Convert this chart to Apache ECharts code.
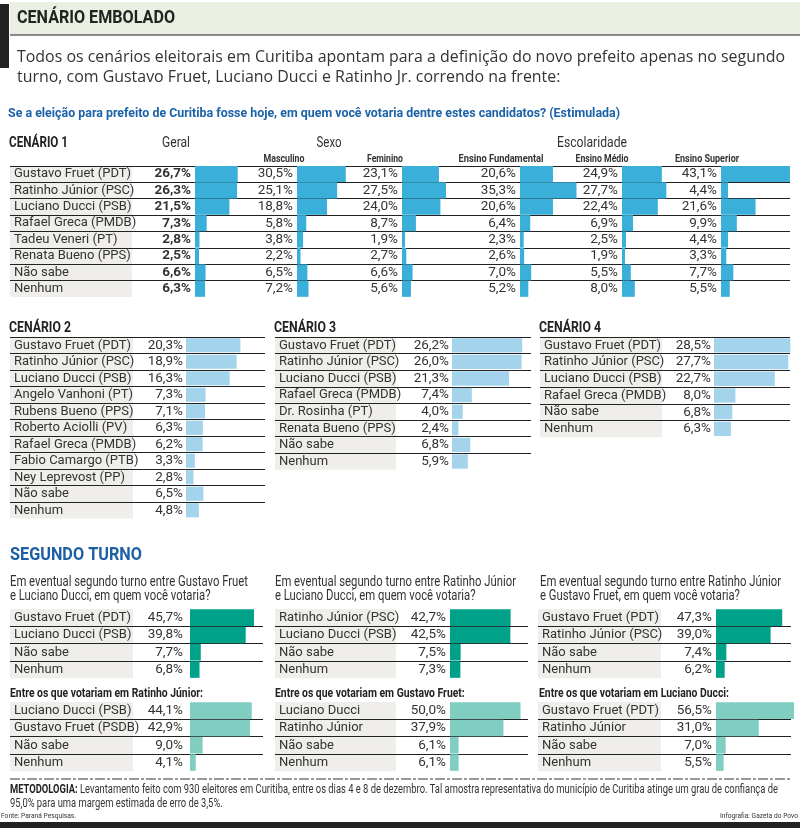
<!DOCTYPE html>
<html><head><meta charset="utf-8">
<script src="https://cdn.jsdelivr.net/npm/echarts@6/dist/echarts.min.js"></script>
<style>html,body{margin:0;padding:0;background:#fff}#c{width:800px;height:828px}</style>
</head><body><div id="c"></div>
<script>
// ---------- DATA ----------
const cen1Names = ['Gustavo Fruet (PDT)','Ratinho Júnior (PSC)','Luciano Ducci (PSB)','Rafael Greca (PMDB)','Tadeu Veneri (PT)','Renata Bueno (PPS)','Não sabe','Nenhum'];
const cen1Geral = [26.7,26.3,21.5,7.3,2.8,2.5,6.6,6.3];
const cen1Masculino = [30.5,25.1,18.8,5.8,3.8,2.2,6.5,7.2];
const cen1Feminino = [23.1,27.5,24.0,8.7,1.9,2.7,6.6,5.6];
const cen1Fundamental = [20.6,35.3,20.6,6.4,2.3,2.6,7.0,5.2];
const cen1Medio = [24.9,27.7,22.4,6.9,2.5,1.9,5.5,8.0];
const cen1Superior = [43.1,4.4,21.6,9.9,4.4,3.3,7.7,5.5];

const cen2Names = ['Gustavo Fruet (PDT)','Ratinho Júnior (PSC)','Luciano Ducci (PSB)','Angelo Vanhoni (PT)','Rubens Bueno (PPS)','Roberto Aciolli (PV)','Rafael Greca (PMDB)','Fabio Camargo (PTB)','Ney Leprevost (PP)','Não sabe','Nenhum'];
const cen2Values = [20.3,18.9,16.3,7.3,7.1,6.3,6.2,3.3,2.8,6.5,4.8];
const cen3Names = ['Gustavo Fruet (PDT)','Ratinho Júnior (PSC)','Luciano Ducci (PSB)','Rafael Greca (PMDB)','Dr. Rosinha (PT)','Renata Bueno (PPS)','Não sabe','Nenhum'];
const cen3Values = [26.2,26.0,21.3,7.4,4.0,2.4,6.8,5.9];
const cen4Names = ['Gustavo Fruet (PDT)','Ratinho Júnior (PSC)','Luciano Ducci (PSB)','Rafael Greca (PMDB)','Não sabe','Nenhum'];
const cen4Values = [28.5,27.7,22.7,8.0,6.8,6.3];

const st1Names = ['Gustavo Fruet (PDT)','Luciano Ducci (PSB)','Não sabe','Nenhum'];
const st1Values = [45.7,39.8,7.7,6.8];
const st2Names = ['Ratinho Júnior (PSC)','Luciano Ducci (PSB)','Não sabe','Nenhum'];
const st2Values = [42.7,42.5,7.5,7.3];
const st3Names = ['Gustavo Fruet (PDT)','Ratinho Júnior (PSC)','Não sabe','Nenhum'];
const st3Values = [47.3,39.0,7.4,6.2];

const en1Names = ['Luciano Ducci (PSB)','Gustavo Fruet (PSDB)','Não sabe','Nenhum'];
const en1Values = [44.1,42.9,9.0,4.1];
const en2Names = ['Luciano Ducci','Ratinho Júnior','Não sabe','Nenhum'];
const en2Values = [50.0,37.9,6.1,6.1];
const en3Names = ['Gustavo Fruet (PDT)','Ratinho Júnior','Não sabe','Nenhum'];
const en3Values = [56.5,31.0,7.0,5.5];

// ---------- STYLE ----------
const NARROW = 'Roboto, "Liberation Sans", sans-serif';
const WIDE = '"Open Sans","Noto Sans",sans-serif';
const TXT = '#333333';
const C1 = '#3aafd9', C2 = '#a3d4eb', C3 = '#00a189', C4 = '#7fcec1';
const BG = '#efeeea';
const fmt = v => v.toFixed(1).replace('.', ',') + '%';

const grids = [], xAxes = [], yAxes = [], series = [], graphics = [];

function panel(p) {
  const i = grids.length;
  const H = p.rowH * p.names.length;
  grids.push({left: p.L, top: p.top, width: p.R - p.L, height: H});
  xAxes.push({gridIndex: i, type: 'value', show: false,
    min: -(p.Z - p.L) / p.s, max: (p.R - p.Z) / p.s});
  yAxes.push({gridIndex: i, type: 'category', inverse: true, data: p.names,
    axisLine: {show: false, onZero: false}, axisTick: {show: false},
    axisLabel: {show: !!p.showNames, inside: true, margin: 4, interval: 0,
      fontFamily: NARROW, fontSize: 13, color: TXT},
    splitLine: {show: true, showMinLine: !!p.minLine, showMaxLine: false,
      lineStyle: {color: '#222', width: 1}}});
  series.push({type: 'bar', xAxisIndex: i, yAxisIndex: i, data: p.values,
    barCategoryGap: p.gap || '10%', clip: false, silent: true,
    itemStyle: {color: p.color},
    label: {show: true, position: 'left', distance: p.dist || 4,
      formatter: d => fmt(d.value), fontFamily: NARROW, fontSize: 13.5,
      fontWeight: p.bold ? 'bold' : 'normal', color: TXT}});
  if (p.bgEnd) {
    graphics.push({type: 'rect', z: -10, shape: {x: p.L, y: p.top, width: p.bgEnd - p.L, height: H},
      style: {fill: BG}});
  }
}

// measure text to compress it horizontally (emulates condensed type)
const mctx = document.createElement('canvas').getContext('2d');
function fitScale(t, size, weight, family, w) {
  mctx.font = (weight || 'normal') + ' ' + size + 'px ' + family;
  return w / mctx.measureText(t).width;
}
function text(t, x, y, o, w, sc) {
  o = Object.assign({fontFamily: NARROW, fontSize: 13, fontWeight: 'normal'}, o || {});
  let k = sc || 1;
  if (w) k = fitScale(t, o.fontSize, o.fontWeight, o.fontFamily, w);
  graphics.push({type: 'text', x: x, y: y, z: 10, scaleX: k, style: Object.assign({
    text: t, fill: TXT, align: 'left', verticalAlign: 'middle'}, o)});
  return k;
}

// ---------- CENÁRIO 1 ----------
const c1top = 165.8, c1row = 16.4, s1 = 1.6;
panel({names: cen1Names, values: cen1Geral, L: 10, Z: 195, R: 245, s: s1, top: c1top, rowH: c1row, color: C1, bgEnd: 132, showNames: true, minLine: true, bold: true, gap: '2%'});
panel({names: cen1Names, values: cen1Masculino, L: 245, Z: 297, R: 350, s: s1, top: c1top, rowH: c1row, color: C1, minLine: true, gap: '2%'});
panel({names: cen1Names, values: cen1Feminino, L: 350, Z: 402, R: 455, s: s1, top: c1top, rowH: c1row, color: C1, minLine: true, gap: '2%'});
panel({names: cen1Names, values: cen1Fundamental, L: 455, Z: 520, R: 580, s: s1, top: c1top, rowH: c1row, color: C1, minLine: true, gap: '2%'});
panel({names: cen1Names, values: cen1Medio, L: 580, Z: 622, R: 680, s: s1, top: c1top, rowH: c1row, color: C1, minLine: true, gap: '2%'});
panel({names: cen1Names, values: cen1Superior, L: 680, Z: 721, R: 790, s: s1, top: c1top, rowH: c1row, color: C1, minLine: true, gap: '2%'});

// ---------- CENÁRIOS 2-4 ----------
const c2top = 337, s2 = 2.68;
panel({names: cen2Names, values: cen2Values, L: 10, Z: 186, R: 265, s: s2, top: c2top, rowH: 16.5, color: C2, bgEnd: 133, showNames: true, minLine: true, dist: 3, gap: '14%'});
panel({names: cen3Names, values: cen3Values, L: 275, Z: 452, R: 531, s: s2, top: c2top, rowH: 16.6, color: C2, bgEnd: 396, showNames: true, minLine: true, dist: 3, gap: '14%'});
panel({names: cen4Names, values: cen4Values, L: 540, Z: 714, R: 790, s: s2, top: c2top, rowH: 16.7, color: C2, bgEnd: 662, showNames: true, minLine: true, dist: 3, gap: '14%'});

// ---------- SEGUNDO TURNO ----------
const stTop = 609, stRow = 17.3, s3 = 1.4;
panel({names: st1Names, values: st1Values, L: 10, Z: 190, R: 263, s: s3, top: stTop, rowH: stRow, color: C3, bgEnd: 133, showNames: true, dist: 7, gap: '4%'});
panel({names: st2Names, values: st2Values, L: 275, Z: 450, R: 528, s: 1.42, top: stTop, rowH: stRow, color: C3, bgEnd: 396, showNames: true, dist: 4, gap: '4%'});
panel({names: st3Names, values: st3Values, L: 538, Z: 716, R: 791, s: s3, top: stTop, rowH: stRow, color: C3, bgEnd: 661, showNames: true, dist: 4, gap: '4%'});

const enTop = 702, enRow = 17.3;
panel({names: en1Names, values: en1Values, L: 10, Z: 190, R: 263, s: s3, top: enTop, rowH: enRow, color: C4, bgEnd: 133, showNames: true, dist: 7, gap: '4%'});
panel({names: en2Names, values: en2Values, L: 275, Z: 450, R: 528, s: 1.41, top: enTop, rowH: enRow, color: C4, bgEnd: 396, showNames: true, dist: 4, gap: '4%'});
panel({names: en3Names, values: en3Values, L: 538, Z: 716, R: 791, s: 1.38, top: enTop, rowH: enRow, color: C4, bgEnd: 661, showNames: true, dist: 4, gap: '4%'});

// ---------- HEADER / TEXTS ----------
graphics.push({type: 'rect', z: -10, shape: {x: 10, y: 2, width: 790, height: 33}, style: {fill: '#e9f0e1'}});
graphics.push({type: 'rect', z: -9, shape: {x: 0, y: 4, width: 9, height: 64}, style: {fill: '#222'}});
graphics.push({type: 'line', z: -9, shape: {x1: 10, y1: 35, x2: 800, y2: 35}, style: {stroke: '#222', lineWidth: 1.2}});
text('CENÁRIO EMBOLADO', 17, 18, {fontSize: 19, fontWeight: 'bold', fill: '#222'}, 158);
const kIntro = text('Todos os cenários eleitorais em Curitiba apontam para a definição do novo prefeito apenas no segundo', 17, 58, {fontFamily: WIDE, fontSize: 15.5}, 768);
text('turno, com Gustavo Fruet, Luciano Ducci e Ratinho Jr. correndo na frente:', 17, 78, {fontFamily: WIDE, fontSize: 15.5}, null, kIntro);
text('Se a eleição para prefeito de Curitiba fosse hoje, em quem você votaria dentre estes candidatos? (Estimulada)', 8, 114, {fontSize: 13, fontWeight: 'bold', fill: '#1b62a8'}, 612);

text('CENÁRIO 1', 9, 143, {fontSize: 14, fontWeight: 'bold', fill: '#222'}, 59);
text('Geral', 176, 143, {align: 'center', fontSize: 14.5}, 28);
text('Sexo', 329, 143, {align: 'center', fontSize: 14.5}, 25);
text('Escolaridade', 592, 143, {align: 'center', fontSize: 14.5}, 70);
text('Masculino', 284, 159, {align: 'center', fontSize: 10.5, fontWeight: 'bold'}, 41);
text('Feminino', 385, 159, {align: 'center', fontSize: 10.5, fontWeight: 'bold'}, 36);
text('Ensino Fundamental', 501, 159, {align: 'center', fontSize: 10.5, fontWeight: 'bold'}, 85);
text('Ensino Médio', 602, 159, {align: 'center', fontSize: 10.5, fontWeight: 'bold'}, 53);
text('Ensino Superior', 707, 159, {align: 'center', fontSize: 10.5, fontWeight: 'bold'}, 64);

const kCen = text('CENÁRIO 2', 9, 328, {fontSize: 14, fontWeight: 'bold', fill: '#222'}, 62);
text('CENÁRIO 3', 274, 328, {fontSize: 14, fontWeight: 'bold', fill: '#222'}, null, kCen);
text('CENÁRIO 4', 539, 328, {fontSize: 14, fontWeight: 'bold', fill: '#222'}, null, kCen);

text('SEGUNDO TURNO', 10, 555, {fontSize: 18, fontWeight: 'bold', fill: '#1d5fa5'}, 132);
const kQ = text('Em eventual segundo turno entre Gustavo Fruet', 10, 582, {fontSize: 14}, 238);
text('e Luciano Ducci, em quem você votaria?', 10, 596, {fontSize: 14}, null, kQ);
text('Em eventual segundo turno entre Ratinho Júnior', 275, 582, {fontSize: 14}, null, kQ);
text('e Luciano Ducci, em quem você votaria?', 275, 596, {fontSize: 14}, null, kQ);
text('Em eventual segundo turno entre Ratinho Júnior', 540, 582, {fontSize: 14}, null, kQ);
text('e Gustavo Fruet, em quem você votaria?', 540, 596, {fontSize: 14}, null, kQ);

const kE = text('Entre os que votariam em Ratinho Júnior:', 10, 694, {fontSize: 13, fontWeight: 'bold', fill: '#222'}, 193);
text('Entre os que votariam em Gustavo Fruet:', 275, 694, {fontSize: 13, fontWeight: 'bold', fill: '#222'}, null, kE);
text('Entre os que votariam em Luciano Ducci:', 539, 694, {fontSize: 13, fontWeight: 'bold', fill: '#222'}, null, kE);

graphics.push({type: 'line', shape: {x1: 10, y1: 779, x2: 790, y2: 779}, style: {stroke: '#333', lineWidth: 1, lineDash: [10, 2, 3, 2]}});
const metaLine = 'METODOLOGIA: Levantamento feito com 930 eleitores em Curitiba, entre os dias 4 e 8 de dezembro. Tal amostra representativa do município de Curitiba atinge um grau de confiança de';
const kM = fitScale(metaLine, 12, 'normal', NARROW, 767);
text('{b|METODOLOGIA:} Levantamento feito com 930 eleitores em Curitiba, entre os dias 4 e 8 de dezembro. Tal amostra representativa do município de Curitiba atinge um grau de confiança de', 10, 790,
  {fontSize: 12, rich: {b: {fontWeight: 'bold', fontSize: 12, fontFamily: NARROW, fill: '#222'}}}, null, kM);
text('95,0% para uma margem estimada de erro de 3,5%.', 10, 804, {fontSize: 12}, null, kM);
text('Fonte: Paraná Pesquisas.', 1, 816, {fontSize: 7.5}, 75);
text('Infografia: Gazeta do Povo', 798, 816, {fontSize: 7.5, align: 'right'}, 78);
graphics.push({type: 'rect', shape: {x: 0, y: 822, width: 800, height: 6}, style: {fill: '#222'}});

const chart = echarts.init(document.getElementById('c'), null, {renderer: 'canvas'});
chart.setOption({
  animation: false,
  grid: grids, xAxis: xAxes, yAxis: yAxes, series: series,
  graphic: {elements: graphics}
});
</script></body></html>
